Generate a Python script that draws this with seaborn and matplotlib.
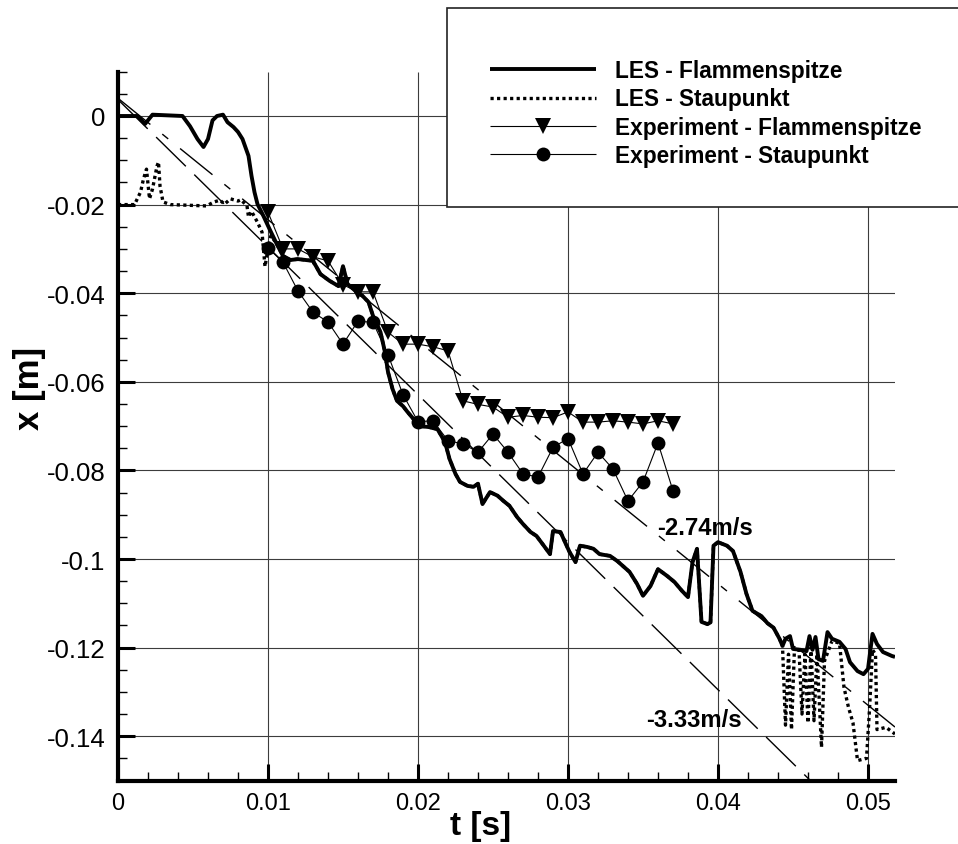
import matplotlib
matplotlib.use("Agg")
import matplotlib.pyplot as plt
from matplotlib.patches import Rectangle
from matplotlib.ticker import MultipleLocator, FixedLocator, FuncFormatter
import numpy as np
import pandas as pd
import seaborn as sns

# ---------------- data ----------------
# LES - Flammenspitze (flame tip position over time)
les_tip_t = [0.0000, 0.0013, 0.0018, 0.0023, 0.0043, 0.0048, 0.0053, 0.0057, 0.0060, 0.0063,
             0.0066, 0.0070, 0.0073, 0.0077, 0.0080, 0.0083, 0.0087, 0.0089, 0.0091, 0.0093,
             0.0097, 0.0101, 0.0106, 0.0110, 0.0115, 0.0120, 0.0130, 0.0135, 0.0141, 0.0147,
             0.0150, 0.0153, 0.0159, 0.0163, 0.0167, 0.0170, 0.0175, 0.0178, 0.0180, 0.0183,
             0.0186, 0.0190, 0.0193, 0.0197, 0.0201, 0.0207, 0.0213, 0.0218, 0.0221, 0.0225,
             0.0228, 0.0233, 0.0237, 0.0240, 0.0243, 0.0245, 0.0248, 0.0253, 0.0257, 0.0261,
             0.0266, 0.0270, 0.0275, 0.0279, 0.0283, 0.0288, 0.0290, 0.0295, 0.0298, 0.0301,
             0.0305, 0.0308, 0.0313, 0.0317, 0.0321, 0.0328, 0.0333, 0.0335, 0.0341, 0.0346,
             0.0350, 0.0355, 0.0360, 0.0366, 0.0371, 0.0376, 0.0380, 0.0383, 0.0386, 0.0389,
             0.0393, 0.0395, 0.0397, 0.0400, 0.0406, 0.0410, 0.0415, 0.0419, 0.0423, 0.0429,
             0.0433, 0.0437, 0.0441, 0.0443, 0.0445, 0.0448, 0.0450, 0.0455, 0.0459, 0.0461,
             0.0463, 0.0465, 0.0467, 0.0470, 0.0473, 0.0476, 0.0481, 0.0485, 0.0488, 0.0493,
             0.0497, 0.0500, 0.0503, 0.0506, 0.0510, 0.0516, 0.0518]
les_tip_x = [0.0000, 0.0000, -0.0018, 0.0003, 0.0000, -0.0023, -0.0052, -0.0070, -0.0052, -0.0010,
             0.0000, 0.0003, -0.0014, -0.0025, -0.0036, -0.0052, -0.0090, -0.0135, -0.0172, -0.0199,
             -0.0226, -0.0255, -0.0290, -0.0316, -0.0325, -0.0323, -0.0327, -0.0357, -0.0372, -0.0384,
             -0.0339, -0.0379, -0.0397, -0.0406, -0.0420, -0.0451, -0.0488, -0.0533, -0.0578, -0.0616,
             -0.0643, -0.0655, -0.0668, -0.0684, -0.0700, -0.0702, -0.0707, -0.0736, -0.0774, -0.0808,
             -0.0826, -0.0835, -0.0837, -0.0830, -0.0876, -0.0865, -0.0849, -0.0857, -0.0869, -0.0880,
             -0.0905, -0.0921, -0.0939, -0.0948, -0.0966, -0.0989, -0.0937, -0.0939, -0.0962, -0.0984,
             -0.1007, -0.0970, -0.0973, -0.0977, -0.0989, -0.0993, -0.1005, -0.1011, -0.1029, -0.1056,
             -0.1083, -0.1061, -0.1023, -0.1038, -0.1052, -0.1072, -0.1086, -0.1007, -0.0977, -0.1142,
             -0.1147, -0.1143, -0.0970, -0.0962, -0.0970, -0.0982, -0.1029, -0.1079, -0.1117, -0.1129,
             -0.1145, -0.1155, -0.1180, -0.1196, -0.1180, -0.1174, -0.1203, -0.1205, -0.1208, -0.1174,
             -0.1205, -0.1176, -0.1226, -0.1230, -0.1165, -0.1180, -0.1187, -0.1203, -0.1233, -0.1253,
             -0.1260, -0.1248, -0.1169, -0.1192, -0.1210, -0.1219, -0.1221]

# LES - Staupunkt (stagnation point): early phase, shared middle phase, late oscillations
les_stau_early_t = [0.0000, 0.0011, 0.0015, 0.0017, 0.0019, 0.0021, 0.0023, 0.0026, 0.0027, 0.0028,
                    0.0030, 0.0035, 0.0059, 0.0064, 0.0068, 0.0071, 0.0075, 0.0080, 0.0082, 0.0086,
                    0.0087, 0.0089, 0.0093, 0.0096, 0.0098, 0.0100, 0.0102]
les_stau_early_x = [-0.0200, -0.0200, -0.0172, -0.0142, -0.0120, -0.0187, -0.0165, -0.0113, -0.0104, -0.0158,
                    -0.0194, -0.0200, -0.0203, -0.0194, -0.0190, -0.0199, -0.0187, -0.0192, -0.0189, -0.0203,
                    -0.0228, -0.0215, -0.0240, -0.0262, -0.0340, -0.0300, -0.0270]
les_stau_late_t = [0.0445, 0.0447, 0.0449, 0.0451, 0.0454, 0.0456, 0.0458, 0.0460, 0.0462, 0.0464,
                   0.0466, 0.0469, 0.0471, 0.0476, 0.0481, 0.0484, 0.0487, 0.0490, 0.0493, 0.0499,
                   0.0501, 0.0503, 0.0505, 0.0506, 0.0512, 0.0518]
les_stau_late_x = [-0.1375, -0.1215, -0.1385, -0.1200, -0.1205, -0.1350, -0.1215, -0.1370, -0.1200, -0.1365,
                   -0.1215, -0.1425, -0.1230, -0.1185, -0.1190, -0.1290, -0.1335, -0.1370, -0.1455, -0.1450,
                   -0.1340, -0.1205, -0.1215, -0.1385, -0.1380, -0.1395]

# Experiment (every 1 ms)
exp_t = [0.010, 0.011, 0.012, 0.013, 0.014, 0.015, 0.016, 0.017, 0.018, 0.019,
         0.020, 0.021, 0.022, 0.023, 0.024, 0.025, 0.026, 0.027, 0.028, 0.029,
         0.030, 0.031, 0.032, 0.033, 0.034, 0.035, 0.036, 0.037]
exp_tip_x = [-0.0217, -0.0300, -0.0300, -0.0318, -0.0327, -0.0381, -0.0397, -0.0397, -0.0488, -0.0515,
             -0.0515, -0.0521, -0.0530, -0.0643, -0.0651, -0.0657, -0.0680, -0.0676, -0.0680, -0.0681,
             -0.0668, -0.0691, -0.0691, -0.0688, -0.0691, -0.0695, -0.0688, -0.0695]
exp_stau_x = [-0.0298, -0.0330, -0.0395, -0.0443, -0.0465, -0.0515, -0.0463, -0.0466, -0.0539, -0.0629,
              -0.0690, -0.0688, -0.0733, -0.0740, -0.0759, -0.0718, -0.0759, -0.0808, -0.0815, -0.0748,
              -0.0728, -0.0808, -0.0759, -0.0797, -0.0869, -0.0826, -0.0738, -0.0846]

# Fitted propagation velocities [m/s] and their offsets [m]
fit_speeds = [-3.33, -2.74]
fit_offsets = [0.0037, 0.0040]
fit_label_pos = [(0.03520, -0.1362), (0.03593, -0.0928)]

series_labels = ["LES - Flammenspitze", "LES - Staupunkt",
                 "Experiment - Flammenspitze", "Experiment - Staupunkt"]

t_range = (0.0, 0.0518)
x_range = (-0.15, 0.01)

# ---------------- style ----------------
sns.set_style("white")
plt.rcParams["font.family"] = ["Liberation Sans", "DejaVu Sans"]
plt.rcParams["text.color"] = "black"
plt.rcParams["axes.labelcolor"] = "black"
plt.rcParams["xtick.color"] = "black"
plt.rcParams["ytick.color"] = "black"
plt.rcParams["lines.scale_dashes"] = False
plt.rcParams["lines.solid_capstyle"] = "butt"
plt.rcParams["lines.dash_capstyle"] = "butt"

W, H = 958, 845
fig = plt.figure(figsize=(W / 100, H / 100), dpi=100)
fig.patch.set_facecolor("white")
ax = fig.add_axes([118 / W, 63.5 / H, (895 - 118) / W, (781.5 - 72.7) / H])
ax.set_facecolor("white")

# reference velocity lines
fit_styles = [(0, (30, 8.5)), (0, (30, 11, 5.5, 11))]
t_line = np.array(t_range)
for v, b, ls in zip(fit_speeds, fit_offsets, fit_styles):
    ref = pd.DataFrame({"t": t_line, "x": b + v * t_line})
    sns.lineplot(data=ref, x="t", y="x", ax=ax, color="black", lw=1.0,
                 linestyle=ls, sort=False, estimator=None, zorder=2)

# LES stagnation point (dotted)
mid = [i for i, t in enumerate(les_tip_t) if 0.0106 <= t <= 0.0443]
stau_t = les_stau_early_t + [les_tip_t[i] for i in mid] + les_stau_late_t
stau_x = les_stau_early_x + [les_tip_x[i] for i in mid] + les_stau_late_x
df_stau = pd.DataFrame({"t": stau_t, "x": stau_x})
sns.lineplot(data=df_stau, x="t", y="x", ax=ax, color="black", lw=2.4,
             linestyle=(0, (2.3, 2.4)), sort=False, estimator=None,
             label=series_labels[1], zorder=3)

# LES flame tip (thick solid)
df_tip = pd.DataFrame({"t": les_tip_t, "x": les_tip_x})
sns.lineplot(data=df_tip, x="t", y="x", ax=ax, color="black", lw=2.8,
             sort=False, estimator=None, label=series_labels[0], zorder=3.5)

# experiments
df_exp = pd.DataFrame({"t": exp_t, "tip": exp_tip_x, "stau": exp_stau_x})
sns.lineplot(data=df_exp, x="t", y="tip", ax=ax, color="black", lw=0.8,
             marker="v", markersize=11, markeredgewidth=0, sort=False,
             estimator=None, label=series_labels[2], zorder=4)
sns.lineplot(data=df_exp, x="t", y="stau", ax=ax, color="black", lw=0.8,
             marker="o", markersize=10, markeredgewidth=0, sort=False,
             estimator=None, label=series_labels[3], zorder=4)

# velocity labels
for v, (tx, ty) in zip(fit_speeds, fit_label_pos):
    ax.text(tx, ty, f"{v:.2f}m/s", fontsize=17.2, fontweight="bold",
            color="black", ha="left", va="center", zorder=5)

# axes
ax.set_xlim(*t_range)
ax.set_ylim(*x_range)
ax.xaxis.set_major_locator(FixedLocator([0.0, 0.01, 0.02, 0.03, 0.04, 0.05]))
ax.xaxis.set_minor_locator(MultipleLocator(0.002))
ax.yaxis.set_major_locator(FixedLocator([-0.14, -0.12, -0.10, -0.08, -0.06, -0.04, -0.02, 0.0]))
ax.yaxis.set_minor_locator(MultipleLocator(0.005))
fmt = FuncFormatter(lambda v, p: "%g" % round(v, 4))
ax.xaxis.set_major_formatter(fmt)
ax.yaxis.set_major_formatter(fmt)

ax.grid(True, which="major", color="#3c3c3c", lw=0.8)
ax.set_axisbelow(True)
for s in ["top", "right"]:
    ax.spines[s].set_visible(False)
for s in ["left", "bottom"]:
    ax.spines[s].set_linewidth(3.0)
    ax.spines[s].set_color("black")
    ax.spines[s].set_zorder(6)

ax.tick_params(which="major", direction="in", length=12, width=2.2, color="black",
               labelcolor="black", bottom=True, left=True)
ax.tick_params(which="minor", direction="in", length=6.5, width=1.0, color="black",
               bottom=True, left=True)
ax.tick_params(axis="y", which="major", labelsize=18.5, pad=9)
ax.tick_params(axis="x", which="major", labelsize=17, pad=8)

ax.set_xlabel("t [s]", fontsize=24, fontweight="bold", color="black")
ax.set_ylabel("x [m]", fontsize=25, fontweight="bold", color="black")
ax.xaxis.set_label_coords(0.467, -0.0635)
ax.xaxis.label.set_va("center")
ax.yaxis.set_label_coords(-0.1133, 0.555)
ax.yaxis.label.set_va("center")

# legend in a framed box at the top right
handles, labels = ax.get_legend_handles_labels()
ax.get_legend().remove()
order = [labels.index(l) for l in series_labels]
handles = [handles[i] for i in order]

box = Rectangle((447 / W, (H - 208) / H), 0.7, (208 - 9) / H, transform=fig.transFigure,
                facecolor="white", edgecolor="#222222", lw=1.2, zorder=7)
fig.add_artist(box)
leg = fig.legend(handles, series_labels, loc="upper left",
                 bbox_to_anchor=(490 / W, 1 - 60 / H), frameon=False,
                 borderpad=0, borderaxespad=0, handlelength=4.7, handletextpad=0.8,
                 labelspacing=0.24, labelcolor="black",
                 prop=dict(weight="bold", size=16.3))
leg.set_zorder(8)

fig.savefig("out.png", dpi=100, facecolor="white")
